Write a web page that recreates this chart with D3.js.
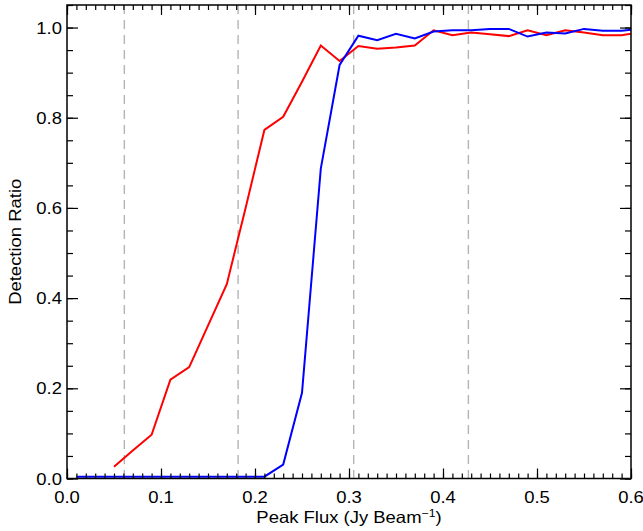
<!DOCTYPE html>
<html>
<head>
<meta charset="utf-8">
<style>
  body { margin: 0; background: #fff; }
  svg text { font-family: "Liberation Sans", Arial, Helvetica, sans-serif; fill: #000; }
</style>
</head>
<body>
<script src="https://d3js.org/d3.v7.min.js"></script>
<script>
// peak flux bins (Jy/beam) and detection ratios
var redFlux = [0.05, 0.07, 0.09, 0.11, 0.13, 0.15, 0.17, 0.19, 0.21, 0.23, 0.25, 0.27, 0.29,
               0.31, 0.33, 0.35, 0.37, 0.39, 0.41, 0.43, 0.45, 0.47, 0.49, 0.51, 0.53, 0.55, 0.57, 0.59, 0.60];
var redRatio = [0.026, 0.062, 0.097, 0.219, 0.247, 0.339, 0.431, 0.60, 0.773, 0.802, 0.88, 0.960, 0.926,
                0.959, 0.953, 0.956, 0.960, 0.994, 0.983, 0.989, 0.985, 0.981, 0.994, 0.983, 0.994, 0.989, 0.983, 0.983, 0.986];

var blueFlux = [0.01, 0.03, 0.05, 0.07, 0.09, 0.11, 0.13, 0.15, 0.17, 0.19, 0.21, 0.23, 0.25, 0.27, 0.29,
                0.31, 0.33, 0.35, 0.37, 0.39, 0.41, 0.43, 0.45, 0.47, 0.49, 0.51, 0.53, 0.55, 0.57, 0.59, 0.60];
var blueRatio = [0.004, 0.004, 0.004, 0.004, 0.004, 0.004, 0.004, 0.004, 0.004, 0.004, 0.004, 0.031, 0.19, 0.687, 0.917,
                 0.982, 0.972, 0.986, 0.976, 0.991, 0.994, 0.994, 0.997, 0.997, 0.980, 0.989, 0.987, 0.997, 0.993, 0.993, 0.995];

// sigma levels (1, 3, 5, 7 sigma)
var sigmaLines = [0.061, 0.182, 0.305, 0.427];

var xTicks = [0.0, 0.1, 0.2, 0.3, 0.4, 0.5, 0.6];
var yTicks = [0.0, 0.2, 0.4, 0.6, 0.8, 1.0];

var W = 643, H = 531;
var pL = 67, pR = 631, pT = 5, pB = 478.5;
var fs = "16.5px", stretch = " scale(1.12,1)";   // IDL helvetica is a bit wider

var svg = d3.select("body").append("svg")
    .attr("width", W)
    .attr("height", H);

var x = d3.scaleLinear().domain([0, 0.6]).range([pL, pR]);
var y = d3.scaleLinear().domain([0, 1.05]).range([pB, pT]);

svg.append("defs").append("clipPath").attr("id", "clip")
  .append("rect").attr("x", pL).attr("y", pT).attr("width", pR - pL).attr("height", pB - pT);

// dashed sigma markers
svg.selectAll(".sig")
    .data(sigmaLines)
  .enter().append("line")
    .attr("x1", function(d) { return x(d); })
    .attr("x2", function(d) { return x(d); })
    .attr("y1", pT)
    .attr("y2", pB)
    .attr("stroke", "#b4b4b4")
    .attr("stroke-width", 1.4)
    .attr("stroke-dasharray", "9,6");

var line = d3.line()
    .x(function(d) { return x(d[0]); })
    .y(function(d) { return y(d[1]); });

var plot = svg.append("g").attr("clip-path", "url(#clip)");

plot.append("path")
    .attr("d", line(d3.zip(redFlux, redRatio)))
    .attr("fill", "none")
    .attr("stroke", "#ff0000")
    .attr("stroke-width", 2);

plot.append("path")
    .attr("d", line(d3.zip(blueFlux, blueRatio)))
    .attr("fill", "none")
    .attr("stroke", "#0000ff")
    .attr("stroke-width", 2);

// axes, IDL style: ticks inside on all four sides
var xMinor = d3.range(0, 0.6001, 0.01);
var yMinor = d3.range(0, 1.0501, 0.05);

function inside(axis, len) { return axis.tickSize(len).tickSizeOuter(0).tickFormat(""); }

svg.append("g").attr("transform", "translate(0," + pB + ")")
    .call(inside(d3.axisTop(x).tickValues(xMinor), 5));
svg.append("g").attr("transform", "translate(0," + pB + ")")
    .call(inside(d3.axisTop(x).tickValues(xTicks), 10));
svg.append("g").attr("transform", "translate(0," + pT + ")")
    .call(inside(d3.axisBottom(x).tickValues(xMinor), 5));
svg.append("g").attr("transform", "translate(0," + pT + ")")
    .call(inside(d3.axisBottom(x).tickValues(xTicks), 10));

svg.append("g").attr("transform", "translate(" + pL + ",0)")
    .call(inside(d3.axisRight(y).tickValues(yMinor), 6));
svg.append("g").attr("transform", "translate(" + pL + ",0)")
    .call(inside(d3.axisRight(y).tickValues(yTicks), 11));
svg.append("g").attr("transform", "translate(" + pR + ",0)")
    .call(inside(d3.axisLeft(y).tickValues(yMinor), 6));
svg.append("g").attr("transform", "translate(" + pR + ",0)")
    .call(inside(d3.axisLeft(y).tickValues(yTicks), 11));

svg.selectAll(".domain").remove();
svg.selectAll(".tick line").attr("stroke", "#000").attr("stroke-width", 1.2);

svg.append("rect")
    .attr("x", pL).attr("y", pT)
    .attr("width", pR - pL).attr("height", pB - pT)
    .attr("fill", "none").attr("stroke", "#000").attr("stroke-width", 1.5);

// tick labels
svg.selectAll(".xl")
    .data(xTicks)
  .enter().append("text")
    .attr("transform", function(d) { return "translate(" + x(d) + ",503)" + stretch; })
    .attr("text-anchor", "middle")
    .style("font-size", fs)
    .text(function(d) { return d3.format(".1f")(d); });

svg.selectAll(".yl")
    .data(yTicks)
  .enter().append("text")
    .attr("transform", function(d) { return "translate(62," + (y(d) + 6) + ")" + stretch; })
    .attr("text-anchor", "end")
    .style("font-size", fs)
    .text(function(d) { return d3.format(".1f")(d); });

// titles
var xt = svg.append("text")
    .attr("transform", "translate(" + ((pL + pR) / 2) + ",523)" + stretch)
    .attr("text-anchor", "middle")
    .style("font-size", fs);
xt.append("tspan").text("Peak Flux (Jy Beam");
xt.append("tspan").attr("dy", -6).style("font-size", "11px").text("\u22121");
xt.append("tspan").attr("dy", 6).text(")");

svg.append("text")
    .attr("transform", "translate(21," + ((pT + pB) / 2) + ") rotate(-90)" + stretch)
    .attr("text-anchor", "middle")
    .style("font-size", fs)
    .text("Detection Ratio");
</script>
</body>
</html>
